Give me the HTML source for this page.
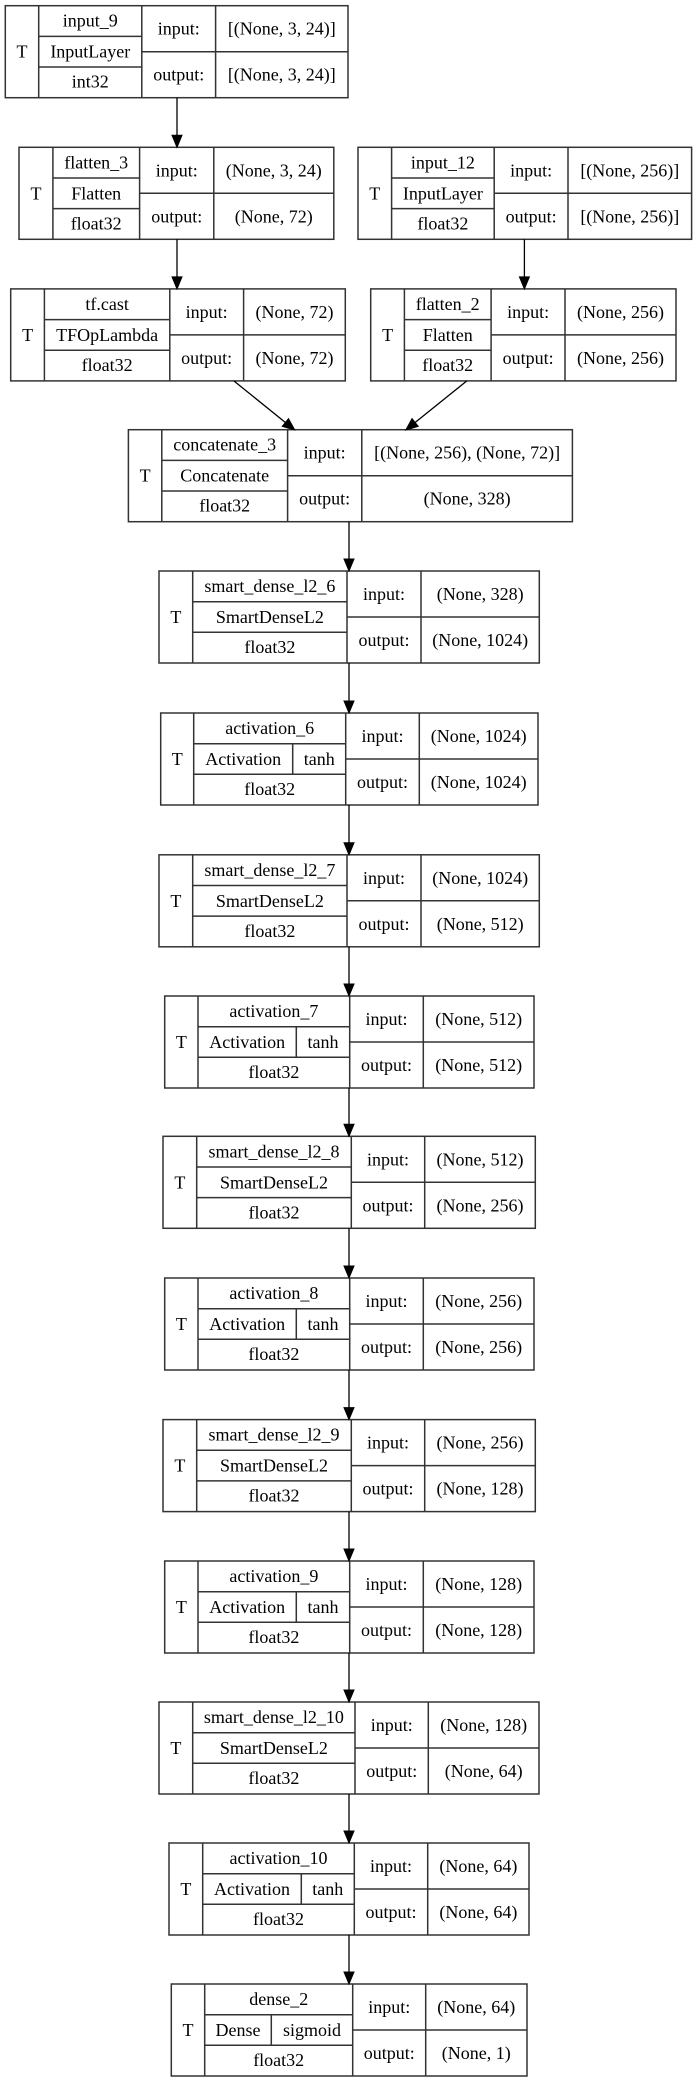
<!DOCTYPE html>
<html><head><meta charset="utf-8"><style>
html,body{margin:0;padding:0;background:#fff;}
svg{display:block;}
text{font-family:"Liberation Serif",serif;font-size:18px;fill:#000;text-anchor:middle;}
.b{fill:none;stroke:#333;stroke-width:1.5;}
.a{stroke:#000;stroke-width:1.3;fill:none;}
.h{fill:#000;stroke:#000;stroke-width:1;}
</style></head><body>
<svg width="694" height="2083" viewBox="0 0 694 2083" xmlns="http://www.w3.org/2000/svg">
<rect width="694" height="2083" fill="#fff"/>

<!-- input_9 -->
<g transform="translate(5.3,5.7)">
<rect class="b" x="0" y="0" width="342.7" height="92"/>
<path class="b" d="M33.4 0V92M136.5 0V92M210.3 0V92M33.4 30.7H136.5M33.4 61.3H136.5M136.5 46H342.7"/>
<text x="16.7" y="52">T</text><text x="85" y="21">input_9</text><text x="85" y="52">InputLayer</text><text x="85" y="82">int32</text>
<text x="173.4" y="29">input:</text><text x="173.4" y="75">output:</text>
<text x="276.5" y="29">[(None, 3, 24)]</text><text x="276.5" y="75">[(None, 3, 24)]</text>
</g>

<!-- flatten_3 -->
<g transform="translate(19,147.3)">
<rect class="b" x="0" y="0" width="314.8" height="92"/>
<path class="b" d="M33.9 0V92M120.6 0V92M194.8 0V92M33.9 30.7H120.6M33.9 61.3H120.6M120.6 46H314.8"/>
<text x="17" y="52">T</text><text x="77.2" y="21">flatten_3</text><text x="77.2" y="52">Flatten</text><text x="77.2" y="82">float32</text>
<text x="157.7" y="29">input:</text><text x="157.7" y="75">output:</text>
<text x="254.8" y="29">(None, 3, 24)</text><text x="254.8" y="75">(None, 72)</text>
</g>

<!-- input_12 -->
<g transform="translate(358,147.3)">
<rect class="b" x="0" y="0" width="333.6" height="92"/>
<path class="b" d="M33.6 0V92M136.2 0V92M210 0V92M33.6 30.7H136.2M33.6 61.3H136.2M136.2 46H333.6"/>
<text x="16.8" y="52">T</text><text x="84.9" y="21">input_12</text><text x="84.9" y="52">InputLayer</text><text x="84.9" y="82">float32</text>
<text x="173.1" y="29">input:</text><text x="173.1" y="75">output:</text>
<text x="271.8" y="29">[(None, 256)]</text><text x="271.8" y="75">[(None, 256)]</text>
</g>

<!-- tf.cast -->
<g transform="translate(10.7,288.9)">
<rect class="b" x="0" y="0" width="334.6" height="92"/>
<path class="b" d="M33.7 0V92M159.1 0V92M232.9 0V92M33.7 30.7H159.1M33.7 61.3H159.1M159.1 46H334.6"/>
<text x="16.9" y="52">T</text><text x="96.4" y="21">tf.cast</text><text x="96.4" y="52">TFOpLambda</text><text x="96.4" y="82">float32</text>
<text x="196" y="29">input:</text><text x="196" y="75">output:</text>
<text x="283.8" y="29">(None, 72)</text><text x="283.8" y="75">(None, 72)</text>
</g>

<!-- flatten_2 -->
<g transform="translate(370.7,288.9)">
<rect class="b" x="0" y="0" width="305.3" height="92"/>
<path class="b" d="M33.7 0V92M120.4 0V92M194.3 0V92M33.7 30.7H120.4M33.7 61.3H120.4M120.4 46H305.3"/>
<text x="16.9" y="52">T</text><text x="77" y="21">flatten_2</text><text x="77" y="52">Flatten</text><text x="77" y="82">float32</text>
<text x="157.4" y="29">input:</text><text x="157.4" y="75">output:</text>
<text x="249.8" y="29">(None, 256)</text><text x="249.8" y="75">(None, 256)</text>
</g>

<!-- concatenate_3 -->
<g transform="translate(128.4,429.7)">
<rect class="b" x="0" y="0" width="444" height="92"/>
<path class="b" d="M33.4 0V92M159.2 0V92M233.4 0V92M33.4 30.7H159.2M33.4 61.3H159.2M159.2 46H444"/>
<text x="16.7" y="52">T</text><text x="96.3" y="21">concatenate_3</text><text x="96.3" y="52">Concatenate</text><text x="96.3" y="82">float32</text>
<text x="196.3" y="29">input:</text><text x="196.3" y="75">output:</text>
<text x="338.7" y="29">[(None, 256), (None, 72)]</text><text x="338.7" y="75">(None, 328)</text>
</g>

<!-- smart_dense_l2_6 -->
<g transform="translate(159,571)">
<rect class="b" x="0" y="0" width="380.3" height="92"/>
<path class="b" d="M33.7 0V92M188 0V92M262 0V92M33.7 30.7H188M33.7 61.3H188M188 46H380.3"/>
<text x="16.9" y="52">T</text><text x="110.9" y="21">smart_dense_l2_6</text><text x="110.9" y="52">SmartDenseL2</text><text x="110.9" y="82">float32</text>
<text x="225" y="29">input:</text><text x="225" y="75">output:</text>
<text x="321.2" y="29">(None, 328)</text><text x="321.2" y="75">(None, 1024)</text>
</g>

<!-- activation_6 -->
<g transform="translate(160.7,713)">
<rect class="b" x="0" y="0" width="377.3" height="92"/>
<path class="b" d="M33 0V92M185 0V92M258.6 0V92M33 30.7H185M33 61.3H185M132 30.7V61.3M185 46H377.3"/>
<text x="16.5" y="52">T</text><text x="109" y="21">activation_6</text><text x="82.5" y="52">Activation</text><text x="158.5" y="52">tanh</text><text x="109" y="82">float32</text>
<text x="221.8" y="29">input:</text><text x="221.8" y="75">output:</text>
<text x="318" y="29">(None, 1024)</text><text x="318" y="75">(None, 1024)</text>
</g>

<!-- smart_dense_l2_7 -->
<g transform="translate(159,854.8)">
<rect class="b" x="0" y="0" width="380.3" height="92"/>
<path class="b" d="M33.7 0V92M188 0V92M262 0V92M33.7 30.7H188M33.7 61.3H188M188 46H380.3"/>
<text x="16.9" y="52">T</text><text x="110.9" y="21">smart_dense_l2_7</text><text x="110.9" y="52">SmartDenseL2</text><text x="110.9" y="82">float32</text>
<text x="225" y="29">input:</text><text x="225" y="75">output:</text>
<text x="321.2" y="29">(None, 1024)</text><text x="321.2" y="75">(None, 512)</text>
</g>

<!-- activation_7 -->
<g transform="translate(164.7,996)">
<rect class="b" x="0" y="0" width="369.3" height="92"/>
<path class="b" d="M33.3 0V92M185 0V92M258.6 0V92M33.3 30.7H185M33.3 61.3H185M131.6 30.7V61.3M185 46H369.3"/>
<text x="16.7" y="52">T</text><text x="109.2" y="21">activation_7</text><text x="82.5" y="52">Activation</text><text x="158.3" y="52">tanh</text><text x="109.2" y="82">float32</text>
<text x="221.8" y="29">input:</text><text x="221.8" y="75">output:</text>
<text x="314" y="29">(None, 512)</text><text x="314" y="75">(None, 512)</text>
</g>

<!-- smart_dense_l2_8 -->
<g transform="translate(163,1136.3)">
<rect class="b" x="0" y="0" width="372.3" height="92"/>
<path class="b" d="M33.7 0V92M188.3 0V92M261.7 0V92M33.7 30.7H188.3M33.7 61.3H188.3M188.3 46H372.3"/>
<text x="16.9" y="52">T</text><text x="111" y="21">smart_dense_l2_8</text><text x="111" y="52">SmartDenseL2</text><text x="111" y="82">float32</text>
<text x="225" y="29">input:</text><text x="225" y="75">output:</text>
<text x="317" y="29">(None, 512)</text><text x="317" y="75">(None, 256)</text>
</g>

<!-- activation_8 -->
<g transform="translate(164.7,1278)">
<rect class="b" x="0" y="0" width="369.3" height="92"/>
<path class="b" d="M33.3 0V92M185 0V92M258.6 0V92M33.3 30.7H185M33.3 61.3H185M131.6 30.7V61.3M185 46H369.3"/>
<text x="16.7" y="52">T</text><text x="109.2" y="21">activation_8</text><text x="82.5" y="52">Activation</text><text x="158.3" y="52">tanh</text><text x="109.2" y="82">float32</text>
<text x="221.8" y="29">input:</text><text x="221.8" y="75">output:</text>
<text x="314" y="29">(None, 256)</text><text x="314" y="75">(None, 256)</text>
</g>

<!-- smart_dense_l2_9 -->
<g transform="translate(163,1419.6)">
<rect class="b" x="0" y="0" width="372.3" height="92"/>
<path class="b" d="M33.7 0V92M188.3 0V92M261.7 0V92M33.7 30.7H188.3M33.7 61.3H188.3M188.3 46H372.3"/>
<text x="16.9" y="52">T</text><text x="111" y="21">smart_dense_l2_9</text><text x="111" y="52">SmartDenseL2</text><text x="111" y="82">float32</text>
<text x="225" y="29">input:</text><text x="225" y="75">output:</text>
<text x="317" y="29">(None, 256)</text><text x="317" y="75">(None, 128)</text>
</g>

<!-- activation_9 -->
<g transform="translate(164.7,1561)">
<rect class="b" x="0" y="0" width="369.3" height="92"/>
<path class="b" d="M33.3 0V92M185 0V92M258.6 0V92M33.3 30.7H185M33.3 61.3H185M131.6 30.7V61.3M185 46H369.3"/>
<text x="16.7" y="52">T</text><text x="109.2" y="21">activation_9</text><text x="82.5" y="52">Activation</text><text x="158.3" y="52">tanh</text><text x="109.2" y="82">float32</text>
<text x="221.8" y="29">input:</text><text x="221.8" y="75">output:</text>
<text x="314" y="29">(None, 128)</text><text x="314" y="75">(None, 128)</text>
</g>

<!-- smart_dense_l2_10 -->
<g transform="translate(159,1702)">
<rect class="b" x="0" y="0" width="380" height="92"/>
<path class="b" d="M33.7 0V92M196 0V92M269.3 0V92M33.7 30.7H196M33.7 61.3H196M196 46H380"/>
<text x="16.9" y="52">T</text><text x="114.9" y="21">smart_dense_l2_10</text><text x="114.9" y="52">SmartDenseL2</text><text x="114.9" y="82">float32</text>
<text x="232.7" y="29">input:</text><text x="232.7" y="75">output:</text>
<text x="324.7" y="29">(None, 128)</text><text x="324.7" y="75">(None, 64)</text>
</g>

<!-- activation_10 -->
<g transform="translate(169,1843)">
<rect class="b" x="0" y="0" width="360" height="92"/>
<path class="b" d="M33.7 0V92M185.3 0V92M258.7 0V92M33.7 30.7H185.3M33.7 61.3H185.3M132.3 30.7V61.3M185.3 46H360"/>
<text x="16.9" y="52">T</text><text x="109.5" y="21">activation_10</text><text x="83" y="52">Activation</text><text x="158.8" y="52">tanh</text><text x="109.5" y="82">float32</text>
<text x="222" y="29">input:</text><text x="222" y="75">output:</text>
<text x="309.4" y="29">(None, 64)</text><text x="309.4" y="75">(None, 64)</text>
</g>

<!-- dense_2 -->
<g transform="translate(171.3,1984)">
<rect class="b" x="0" y="0" width="355.7" height="92"/>
<path class="b" d="M33.4 0V92M181.4 0V92M254.4 0V92M33.4 30.7H181.4M33.4 61.3H181.4M100 30.7V61.3M181.4 46H355.7"/>
<text x="16.7" y="52">T</text><text x="107.4" y="21">dense_2</text><text x="66.7" y="52">Dense</text><text x="140.7" y="52">sigmoid</text><text x="107.4" y="82">float32</text>
<text x="217.9" y="29">input:</text><text x="217.9" y="75">output:</text>
<text x="305" y="29">(None, 64)</text><text x="305" y="75">(None, 1)</text>
</g>

<!-- arrows -->
<path class="a" d="M177 97.7V136M177 239.3V278M524.4 239.3V278M234 381L285.4 422.5M466.7 381L415.1 422.5"/>
<polygon class="h" points="172,135.3 182,135.3 177,147.3"/>
<polygon class="h" points="172,276.9 182,276.9 177,288.9"/>
<polygon class="h" points="519.4,276.9 529.4,276.9 524.4,288.9"/>
<polygon class="h" points="282.2,426.4 288.5,418.6 294.7,430"/>
<polygon class="h" points="412,418.6 418.2,426.4 405.8,430"/>

<path class="a" d="M349 521.7V560M349 663V702M349 805V844M349 946.8V985M349 1088V1125M349 1228.3V1267M349 1370V1408M349 1511.6V1550M349 1653V1691M349 1794V1832M349 1935V1973"/>
<polygon class="h" points="344,559 354,559 349,571"/>
<polygon class="h" points="344,701 354,701 349,713"/>
<polygon class="h" points="344,842.8 354,842.8 349,854.8"/>
<polygon class="h" points="344,984 354,984 349,996"/>
<polygon class="h" points="344,1124.3 354,1124.3 349,1136.3"/>
<polygon class="h" points="344,1266 354,1266 349,1278"/>
<polygon class="h" points="344,1407.6 354,1407.6 349,1419.6"/>
<polygon class="h" points="344,1549 354,1549 349,1561"/>
<polygon class="h" points="344,1690 354,1690 349,1702"/>
<polygon class="h" points="344,1831 354,1831 349,1843"/>
<polygon class="h" points="344,1972 354,1972 349,1984"/>
</svg>
</body></html>
